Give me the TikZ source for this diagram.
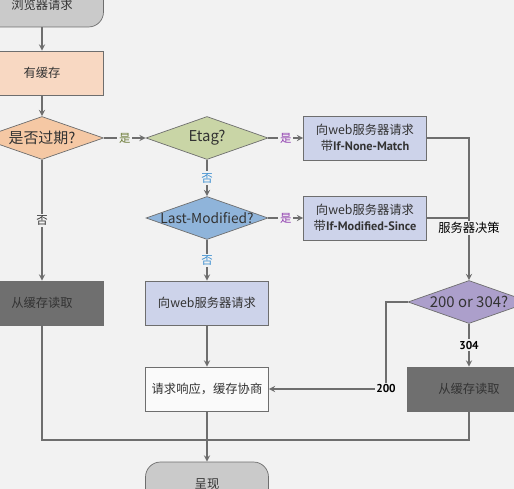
\documentclass[tikz,border=0pt]{standalone}
\usepackage{fontspec}
\setmainfont{Noto Sans CJK SC}
\newfontfamily\latb{PT Sans}
\usetikzlibrary{shapes.geometric,arrows,positioning}
\definecolor{bgc}{HTML}{F2F2F2}
\definecolor{edge}{HTML}{6E6E6E}
\definecolor{peach}{HTML}{F8D8C2}
\definecolor{orng}{HTML}{F5C8A4}
\definecolor{olive}{HTML}{C9D5A6}
\definecolor{lav}{HTML}{CDD3EA}
\definecolor{sky}{HTML}{8FB4DA}
\definecolor{purp}{HTML}{AC9FCB}
\definecolor{dark}{HTML}{6F6F6F}
\definecolor{term}{HTML}{CACACA}
\definecolor{yesg}{HTML}{6E7D3A}
\definecolor{yesp}{HTML}{9140B0}
\definecolor{nob}{HTML}{3D8FD0}
\newcommand{\hdr}[1]{{\latb\bfseries\fontsize{7}{9}\selectfont #1}}

\begin{document}
\begin{tikzpicture}
[x=0.02cm,y=-0.02cm,>=stealth,
box/.style = {draw=edge, minimum width=2.46cm, minimum height=0.88cm, inner sep=1pt, font=\fontsize{7}{9}\selectfont, align=center, text=black!80},
dia/.style = {diamond, draw=edge, inner sep=0pt, minimum width=2.44cm, minimum height=0.86cm, text=black!80},
termin/.style = {box, fill=term, rounded corners=0.3cm},
lbl/.style = {fill=bgc, inner sep=1pt, font=\fontsize{6.5}{8}\selectfont},
line/.style = {draw=edge, line width=0.6pt},]
\useasboundingbox (0,0) rectangle (514,489);
\clip (0,0) rectangle (514,489);
\fill[bgc] (0,0) rectangle (514,489);

\node (req) at (42,5)[termin] {浏览器请求};
\node (has) at (42,73)[box, fill=peach] {有缓存};
\node (exp) at (42,138)[dia, fill=orng, minimum width=2.46cm, font=\fontsize{8.5}{10}\selectfont] {\makebox[0pt]{是否过期?}};
\node (etag) at (207,138)[dia, fill=olive, font=\fontsize{8.5}{10}\selectfont] {\makebox[0pt]{Etag?}};
\node (inm) at (365,138)[box, fill=lav] {向web服务器请求\\带\hdr{If-None-Match}};
\node (lm) at (207,218)[dia, fill=sky, font=\fontsize{7.8}{9}\selectfont] {\makebox[0pt]{Last-Modified?}};
\node (ims) at (365,218)[box, fill=lav] {向web服务器请求\\带\hdr{If-Modified-Since}};
\node (cacheL) at (42,303)[box, fill=dark] {从缓存读取};
\node (srv) at (207,303)[box, fill=lav] {向web服务器请求};
\node (dec) at (469,302)[dia, fill=purp, font=\fontsize{8.5}{10}\selectfont] {\makebox[0pt]{200 or 304?}};
\node (resp) at (207,389)[box, fill=white!60!bgc] {请求响应，缓存协商};
\node (cacheR) at (469,389)[box, fill=dark] {从缓存读取};
\node (show) at (207,484)[termin] {呈现};
\coordinate (bot) at (207,440);
\coordinate (c200) at (386,302);

\draw[line,->] (req)--(has);
\draw[line,->] (has)--(exp);
\draw[line,->] (exp)-- node[lbl, text=yesg] {是} (etag);
\draw[line,->] (etag)-- node[lbl, text=yesp] {是} (inm);
\draw[line,->] (etag)-- node[lbl, text=nob] {否} (lm);
\draw[line,->] (lm)-- node[lbl, text=yesp] {是} (ims);
\draw[line,->] (lm)-- node[lbl, text=nob] {否} (srv);
\draw[line,->] (exp)-- node[lbl, text=black!80] {否} (cacheL);
\draw[line,->] (inm.east) -| (dec.north);
\draw[line] (ims.east) -- (ims.east -| dec.north);
\node (srvlbl) at (469,228)[lbl, font=\fontsize{7}{8}\selectfont] {服务器决策};
\draw[line,->] (dec.west) -- (c200) |- node[lbl, pos=0.5, font=\latb\bfseries\fontsize{6.5}{8}\selectfont] {200} (resp.east);
\draw[line,->] (dec)-- node[lbl, font=\latb\bfseries\fontsize{6.5}{8}\selectfont] {304} (cacheR);
\draw[line,->] (srv)--(resp);
\draw[line] (cacheL) |- (bot);
\draw[line] (cacheR) |- (bot);
\draw[line,->] (resp)--(show);
\end{tikzpicture}
\end{document}
